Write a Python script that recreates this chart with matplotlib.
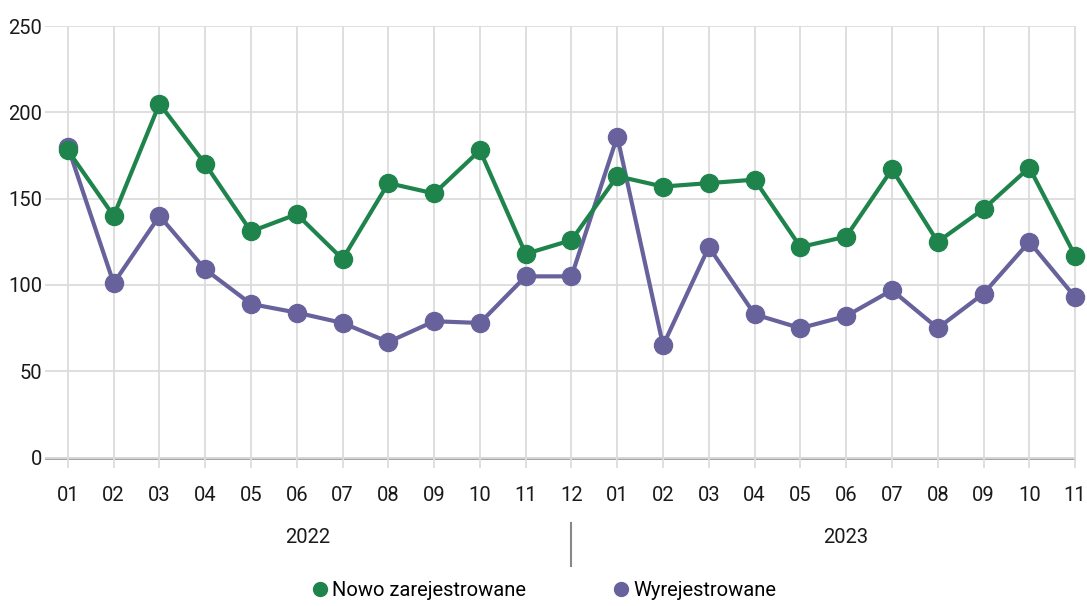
import matplotlib
matplotlib.use("Agg")
import matplotlib.pyplot as plt
from matplotlib.lines import Line2D

# Data
months = ["01", "02", "03", "04", "05", "06", "07", "08", "09", "10", "11", "12",
          "01", "02", "03", "04", "05", "06", "07", "08", "09", "10", "11"]
years = ["2022", "2023"]
nowo = [178, 140, 205, 170, 131, 141, 115, 159, 153, 178, 118, 126,
        163, 157, 159, 161, 122, 128, 167, 125, 144, 168, 117]
wyrej = [180, 101, 140, 109, 89, 84, 78, 67, 79, 78, 105, 105,
         186, 65, 122, 83, 75, 82, 97, 75, 95, 125, 93]
series_names = ["Nowo zarejestrowane", "Wyrejestrowane"]

green = "#1f844c"
purple = "#67629c"
txt = "#1a1a1a"
fs = 14.5

plt.rcParams['font.family'] = ['Roboto', 'DejaVu Sans']

fig = plt.figure(figsize=(10.87, 6.06), dpi=100)
W, H = 1087, 606
ax = fig.add_axes([45 / W, 1 - 468 / H, (1076 - 45) / W, (468 - 26) / H])

x = list(range(len(months)))
ax.plot(x, wyrej, color=purple, lw=3, marker="o", ms=13, zorder=3, clip_on=False)
ax.plot(x, nowo, color=green, lw=3, marker="o", ms=13, zorder=4, clip_on=False)

ax.set_xlim(-0.5, 22.02)
ax.set_ylim(-6, 250)
ax.set_yticks([0, 50, 100, 150, 200, 250])
ax.set_xticks(x)
ax.set_xticklabels(months)

ax.grid(True, color="#dcdcdc", lw=1.3, zorder=0)
ax.axhline(0, color="#9a9a9a", lw=2, zorder=1)

for s in ax.spines.values():
    s.set_visible(False)
ax.tick_params(axis="both", length=0, labelsize=fs, colors=txt)
ax.tick_params(axis="x", pad=13)
ax.tick_params(axis="y", pad=2)

# year labels and separator
ax.text(5.24, -46, years[0], ha="center", va="center", fontsize=fs, color=txt)
ax.text(17.0, -46, years[1], ha="center", va="center", fontsize=fs, color=txt)
ax.add_line(Line2D([11, 11], [-38, -63], color="#888888", lw=1.5, clip_on=False))

# legend
handles = [Line2D([], [], color=green, marker="o", ls="", ms=10),
           Line2D([], [], color=purple, marker="o", ls="", ms=10)]
fig.legend(handles, series_names, loc="center", bbox_to_anchor=(543 / W, 1 - 591 / H),
           ncol=2, frameon=False, fontsize=fs, handletextpad=0.1, columnspacing=4.2,
           handlelength=1.0)

fig.savefig("out.png", dpi=100)
